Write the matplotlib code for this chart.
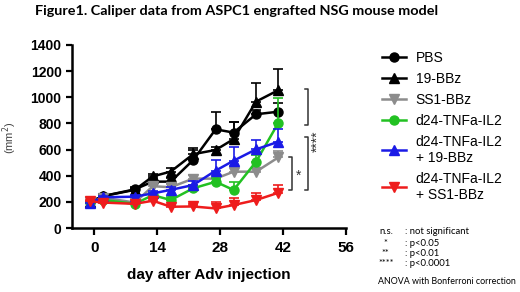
import matplotlib
matplotlib.use("Agg")
import matplotlib.pyplot as plt
import numpy as np

plt.rcParams['font.family'] = ['Liberation Sans', 'DejaVu Sans']

# days after Adv injection
days = [-1, 2, 9, 13, 17, 22, 27, 31, 36, 41]

# tumour area (mm2), mean and upper error
pbs = [200, 245, 296, 355, 355, 520, 755, 730, 870, 890]
pbs_err = [10, 15, 20, 25, 30, 95, 135, 80, 30, 70]

bbz19 = [200, 245, 292, 395, 432, 565, 597, 680, 967, 1055]
bbz19_err = [10, 12, 15, 20, 25, 30, 25, 130, 145, 165]

ss1 = [200, 232, 195, 320, 312, 378, 378, 431, 431, 541]
ss1_err = [10, 12, 10, 20, 25, 25, 30, 40, 30, 45]

tnf = [200, 215, 185, 252, 214, 304, 354, 291, 507, 806]
tnf_err = [10, 10, 10, 15, 20, 25, 30, 63, 50, 188]

tnf_19 = [194, 235, 240, 265, 292, 329, 439, 515, 602, 660]
tnf_19_err = [10, 12, 15, 20, 25, 30, 81, 105, 71, 100]

tnf_ss1 = [205, 195, 185, 209, 163, 165, 150, 176, 214, 270]
tnf_ss1_err = [10, 10, 10, 15, 15, 20, 51, 53, 56, 59]

series = [
    ("PBS", pbs, pbs_err, "black", "o"),
    ("19-BBz", bbz19, bbz19_err, "black", "^"),
    ("SS1-BBz", ss1, ss1_err, "#8c8c8c", "v"),
    ("d24-TNFa-IL2", tnf, tnf_err, "#22c122", "o"),
    ("d24-TNFa-IL2\n+ 19-BBz", tnf_19, tnf_19_err, "#1a1ae6", "^"),
    ("d24-TNFa-IL2\n+ SS1-BBz", tnf_ss1, tnf_ss1_err, "#ee1c1c", "v"),
]

fig = plt.figure(figsize=(5.2, 2.92), dpi=100)
ax = fig.add_axes([0.1385, 0.219, 0.5265, 0.627])

handles = []
for name, vals, err, col, mk in series:
    vals = np.array(vals)
    err = np.array(err)
    ax.errorbar(days, vals, yerr=[np.zeros_like(err), err], fmt='none',
                ecolor=col, elinewidth=1.2, capsize=3.5, capthick=1.2)
    h, = ax.plot(days, vals, color=col, marker=mk, markersize=6.5,
                 linewidth=1.8, label=name)
    handles.append(h)

ax.set_xlim(-5, 56)
ax.set_ylim(0, 1400)
ax.set_xticks([0, 14, 28, 42, 56])
ax.set_yticks(np.arange(0, 1401, 200))
for s in ['top', 'right']:
    ax.spines[s].set_visible(False)
for s in ['left', 'bottom']:
    ax.spines[s].set_linewidth(1.8)
ax.tick_params(axis='both', direction='out', width=1.6, length=4)
ax.tick_params(axis='x', length=5, pad=4)
for lab in ax.get_xticklabels():
    lab.set_fontweight('bold')
    lab.set_fontsize(11)
for lab in ax.get_yticklabels():
    lab.set_fontweight('bold')
    lab.set_fontsize(10)
ax.set_xlabel("day after Adv injection", fontsize=11, fontweight='bold', labelpad=10)

fig.text(0.018, 0.53, "(mm$^{2}$)", rotation=90, fontsize=8, color='#444444',
         ha='center', va='center')

# significance brackets
kw = dict(color='#333333', linewidth=1.1, clip_on=False)
ax.plot([46.8, 47.5, 47.5, 46.8], [1060, 1060, 788, 788], **kw)
ax.plot([46.8, 47.5, 47.5, 46.8], [694, 694, 291, 291], **kw)
ax.plot([43.4, 44.1, 44.1, 43.4], [545, 545, 290, 290], **kw)
ax.text(49.7, 660, "****", rotation=90, ha='center', va='center', fontsize=10,
        color='#333333', clip_on=False)
ax.text(45.5, 400, "*", ha='center', va='center', fontsize=10, color='#333333')

fig.legend(handles=handles, loc='upper left', bbox_to_anchor=(0.722, 0.85),
           frameon=False, fontsize=10, handlelength=1.7, handletextpad=0.7,
           labelspacing=0.5, borderpad=0)

fig.text(0.067, 0.962, "Figure1. Caliper data from ASPC1 engrafted NSG mouse model",
         fontsize=10.4, fontweight='bold', family='Lato', va='center')

notes = [("n.s.", ": not significant"), ("*", ": p<0.05"),
         ("**", ": p<0.01"), ("****", ": p<0.0001")]
note_y = [232, 243, 253, 264]
for (sym, txt), py in zip(notes, note_y):
    y = 1 - py / 292
    fig.text(0.742, y, sym, fontsize=6.8, family='Lato', ha='center', va='center')
    fig.text(0.778, y, txt, fontsize=6.8, family='Lato', va='center')
fig.text(0.727, 1 - 282 / 292, "ANOVA with Bonferroni correction", fontsize=6.4,
         family='Lato', va='center')

fig.savefig("out.png", dpi=100, facecolor='white')
